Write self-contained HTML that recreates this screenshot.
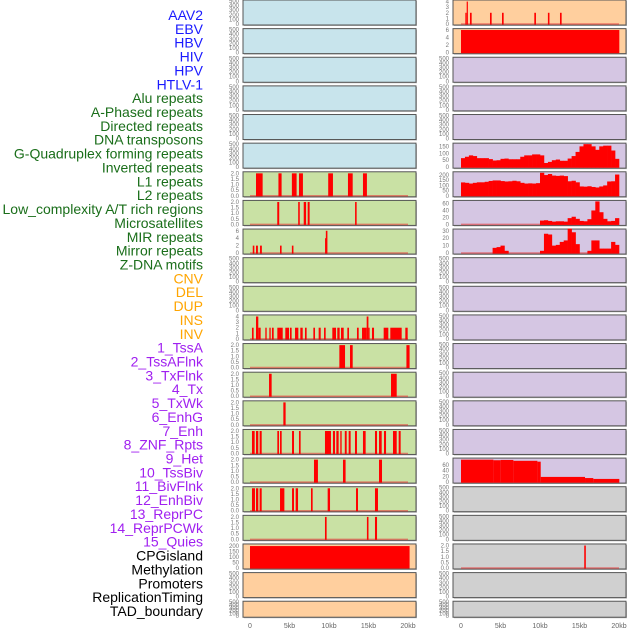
<!DOCTYPE html>
<html><head><meta charset="utf-8"><style>
body{margin:0;background:#fff;}
svg{display:block;font-family:"Liberation Sans",sans-serif;}
</style></head><body>
<svg id="chart" width="630" height="630" viewBox="0 0 630 630"></svg>
<script>
const labels=["AAV2","EBV","HBV","HIV","HPV","HTLV-1","Alu repeats","A-Phased repeats","Directed repeats","DNA transposons","G-Quadruplex forming repeats","Inverted repeats","L1 repeats","L2 repeats","Low_complexity A/T rich regions","Microsatellites","MIR repeats","Mirror repeats","Z-DNA motifs","CNV","DEL","DUP","INS","INV","1_TssA","2_TssAFlnk","3_TxFlnk","4_Tx","5_TxWk","6_EnhG","7_Enh","8_ZNF_Rpts","9_Het","10_TssBiv","11_BivFlnk","12_EnhBiv","13_ReprPC","14_ReprPCWk","15_Quies","CPGisland","Methylation","Promoters","ReplicationTiming","TAD_boundary"];
const labelColors=["#1a1aff","#1a1aff","#1a1aff","#1a1aff","#1a1aff","#1a1aff","#1a6e1a","#1a6e1a","#1a6e1a","#1a6e1a","#1a6e1a","#1a6e1a","#1a6e1a","#1a6e1a","#1a6e1a","#1a6e1a","#1a6e1a","#1a6e1a","#1a6e1a","#ffa500","#ffa500","#ffa500","#ffa500","#ffa500","#a020f0","#a020f0","#a020f0","#a020f0","#a020f0","#a020f0","#a020f0","#a020f0","#a020f0","#a020f0","#a020f0","#a020f0","#a020f0","#a020f0","#a020f0","#000","#000","#000","#000","#000"];
const xTickLabels=["0","5kb","10kb","15kb","20kb"];
const xTickValues=[0,5,10,15,20];
// interval tracks: [startKb, endKb, value]
const left6=[[0.76,1.6,2],[3.6,4.0,2],[5.3,5.9,2],[6.2,6.7,2],[9.9,10.5,2],[12.4,13.0,2],[14.3,14.8,2]];
const left7=[[3.45,3.7,2],[6.1,6.3,2],[6.8,7.1,2],[7.3,7.55,2],[13.3,13.5,2]];
const left8=[[0.35,0.55,2],[0.76,1.0,2],[1.27,1.5,2],[3.8,4.0,2],[5.3,5.5,2],[9.5,9.6,4],[9.6,9.8,6]];
const left11=[[0.25,0.46,2],[0.76,1.05,4],[1.05,1.35,2],[1.94,2.11,2],[2.45,2.62,2],[2.78,3.0,2],[3.46,4.14,2],[4.47,4.94,2],[5.06,5.27,2],[5.7,6.12,2],[6.37,6.67,2],[6.96,7.17,2],[8.02,8.23,2],[8.69,8.95,2],[9.37,9.58,2],[10.42,10.89,2],[11.05,11.35,2],[11.52,11.86,2],[12.32,12.53,2],[13.54,13.76,2],[14.18,14.77,2],[14.77,14.99,4],[14.99,15.06,2],[15.44,15.7,2],[16.92,17.51,2],[17.76,19.2,2],[19.66,19.96,2]];
const left12=[[11.31,12.03,2],[12.66,13.0,2],[19.8,20.2,2]];
const left13=[[2.41,2.74,2],[17.85,18.57,2]];
const left14=[[4.22,4.51,2]];
const left15=[[0.25,0.59,2],[0.76,1.05,2],[1.22,1.48,2],[3.46,3.67,2],[3.8,4.01,2],[5.32,5.57,2],[6.2,6.41,2],[9.49,10.25,2],[10.5,10.76,2],[10.93,11.22,2],[11.43,11.6,2],[12.0,12.24,2],[12.49,12.74,2],[13.29,13.54,2],[14.3,14.64,2],[15.82,16.08,2],[16.33,16.67,2],[16.96,17.22,2],[18.1,18.57,2],[18.82,19.07,2]];
const left16=[[8.1,8.6,2],[11.77,12.1,2],[16.33,16.71,2]];
const left17=[[0.25,0.63,2],[0.76,1.05,2],[1.22,1.48,2],[3.8,4.35,2],[5.32,5.57,2],[5.78,6.08,2],[7.72,7.93,2],[9.83,10.13,2],[13.42,13.67,2],[15.82,16.2,2]];
const left18=[[9.49,9.7,2],[14.8,15.0,2],[15.82,16.08,2]];
const leftCpG=[[0,20.2,200]];
const right0=[[0.55,0.65,2],[0.72,0.84,4],[1.14,1.35,2],[3.67,3.88,2],[5.19,5.4,2],[9.28,9.49,2],[11.0,11.2,2],[12.53,12.74,2]];
const right1=[[0,20.04,6]];
const right16=[[0,4.1,78],[4.1,5.02,76],[5.02,6.63,77],[6.63,9.67,74],[9.67,10.09,71],[10.09,15.7,18],[15.7,16.75,14],[16.75,20.04,11]];
const right19=[[15.6,15.8,2]];
// binned tracks: 0.5kb bins from 0 to 20kb
const right5=[65,75,85,80,65,65,65,58,48,50,60,62,57,57,57,75,85,85,92,92,85,30,38,50,55,46,46,62,80,110,150,166,166,150,125,150,155,155,120,60];
const right6=[129,125,118,125,130,130,135,143,148,148,142,138,140,145,140,125,118,120,118,122,222,200,210,195,192,195,190,140,145,130,90,88,92,85,80,90,100,138,140,205];
const right7=[0,0,0,0,0,0,0,0,0,0,0,0,0,0,0,0,0,0,0,0,11,12,10,8,9,9,8,18,22,16,10,9,15,40,66,35,16,9,10,18];
const right8=[0,0,0,0,0,0,0,0,7,8,10,3,0,0,0,0,0,0,0,0,3,26,25,10,11,15,17,33,28,12,0,0,3,17,17,6,6,6,15,11];

const T500=[0,100,200,300,400,500],T2=[0,0.5,1,1.5,2];
const panels=[
 {c:0,r:6,yMax:2.05,ticks:T2,fmt:1,iv:left6},
 {c:0,r:7,yMax:2.05,ticks:T2,fmt:1,iv:left7},
 {c:0,r:8,yMax:6.2,ticks:[0,2,4,6],iv:left8},
 {c:0,r:11,yMax:4.1,ticks:[0,1,2,3,4],iv:left11},
 {c:0,r:12,yMax:2.05,ticks:T2,fmt:1,iv:left12},
 {c:0,r:13,yMax:2.05,ticks:T2,fmt:1,iv:left13},
 {c:0,r:14,yMax:2.05,ticks:T2,fmt:1,iv:left14},
 {c:0,r:15,yMax:2.05,ticks:T2,fmt:1,iv:left15},
 {c:0,r:16,yMax:2.05,ticks:T2,fmt:1,iv:left16},
 {c:0,r:17,yMax:2.05,ticks:T2,fmt:1,iv:left17},
 {c:0,r:18,yMax:2.05,ticks:T2,fmt:1,iv:left18},
 {c:0,r:19,yMax:210,ticks:[0,50,100,150,200],iv:leftCpG},
 {c:1,r:0,yMax:4.1,ticks:[0,1,2,3,4],iv:right0},
 {c:1,r:1,yMax:6.1,ticks:[0,2,4,6],iv:right1},
 {c:1,r:5,yMax:166,ticks:[0,50,100,150],bins:right5},
 {c:1,r:6,yMax:222,ticks:[0,50,100,150,200],bins:right6},
 {c:1,r:7,yMax:66,ticks:[0,20,40,60],bins:right7},
 {c:1,r:8,yMax:31,ticks:[0,10,20,30],bins:right8},
 {c:1,r:16,yMax:80,ticks:[0,20,40,60],iv:right16},
 {c:1,r:19,yMax:2.05,ticks:T2,fmt:1,iv:right19}
];
function bgFor(c,r){
 if(c===0){ if(r<=5) return "#c8e4ec"; if(r<=18) return "#c9e1a4"; return "#ffcf9e"; }
 if(r<=1) return "#ffcf9e"; if(r<=16) return "#d5c6e3"; return "#d0d0d0";
}
const svg=document.getElementById('chart');
const NS="http://www.w3.org/2000/svg";
function mk(tag,attrs,parent){const e=document.createElementNS(NS,tag);for(const k in attrs)e.setAttribute(k,attrs[k]);(parent||svg).appendChild(e);return e;}
function panelTop(r){return r*28.63;}
function panelH(r){return r===21?16:25;}
function panelX(c){return c===0?243:453;}
function xScale(c,kb){return (c===0?250:461)+kb*7.9;}
function yScale(r,yMax,v){const t=panelTop(r),h=panelH(r);const y0=t+h-1,y1=t+1;return y0-(v/yMax)*(y0-y1);}

labels.forEach((s,i)=>{
 const t=mk('text',{x:203,y:15+13.86*i+5,'text-anchor':'end','font-size':'14',fill:labelColors[i]});
 
 
 t.textContent=s;
});

const pmap={};panels.forEach(p=>{pmap[p.c+'_'+p.r]=p;});
for(let c=0;c<2;c++)for(let r=0;r<22;r++){
 const p=pmap[c+'_'+r]||{yMax:500,ticks:T500};
 const g=mk('g',{});
 
 
 const x=panelX(c),t=panelTop(r),h=panelH(r);
 mk('rect',{x:x+1,y:t+1,width:173,height:h,fill:'#bbb'},g);
 mk('rect',{x:x,y:t,width:173,height:h,fill:bgFor(c,r),stroke:'#555','stroke-width':1},g);
 if(p.iv||p.bins){
  const bl=mk('line',{x1:xScale(c,0),x2:xScale(c,20),y1:yScale(r,p.yMax,0),y2:yScale(r,p.yMax,0),stroke:'rgba(230,60,60,0.6)','stroke-width':1.5},g);
  
  
 }
 if(p.iv){p.iv.forEach(d=>{
  const x1=xScale(c,d[0]),x2=xScale(c,d[1]),y=yScale(r,p.yMax,d[2]),y0=yScale(r,p.yMax,0);
  const b=mk('rect',{x:x1,y:y,width:Math.max(1.2,x2-x1),height:y0-y+0.5,fill:'#ff0000'},g);
  
  
 });}
 if(p.bins){p.bins.forEach((v,i)=>{
  if(v<=0)return;
  const x1=xScale(c,i*0.5),x2=xScale(c,(i+1)*0.5),y=yScale(r,p.yMax,v),y0=yScale(r,p.yMax,0);
  const b=mk('rect',{x:x1,y:y,width:x2-x1+0.3,height:y0-y+0.5,fill:'#ff0000'},g);
  
  
 });}
 p.ticks.forEach(v=>{
  const tl=mk('text',{x:x-4,y:yScale(r,p.yMax,v)+2,'text-anchor':'end','font-size':'6',fill:'#777'},g);
  
  
  tl.textContent=p.fmt?v.toFixed(1):String(v);
 });
}
for(let c=0;c<2;c++){
 xTickValues.forEach((v,i)=>{
  const tl=mk('text',{x:xScale(c,v),y:628,'text-anchor':'middle','font-size':'7',fill:'#666'});
  
  
  tl.textContent=xTickLabels[i];
 });
}
</script>
</body></html>
